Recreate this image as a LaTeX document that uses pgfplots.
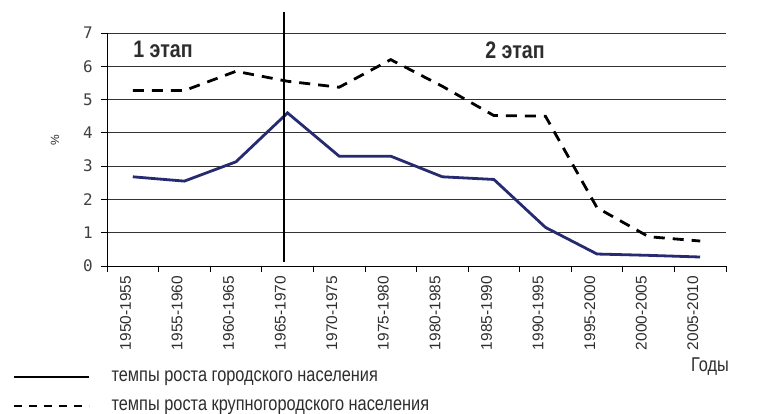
\documentclass[border=0pt]{standalone}
\usepackage{fontspec}
\setmainfont{Liberation Sans}
\newfontfamily\condfont[FakeStretch=0.82]{Liberation Sans}
\newfontfamily\monofont{DejaVu Sans Mono}
\usepackage{pgfplots}
\usepackage{pgfplotstable}
\pgfplotsset{compat=1.18}
\definecolor{navy}{RGB}{38,42,112}
\definecolor{txt}{RGB}{45,45,45}

\pgfplotstableread{
x urban big
0 2.68 5.27
1 2.55 5.27
2 3.13 5.85
3 4.60 5.55
4 3.30 5.37
5 3.30 6.20
6 2.68 5.40
7 2.60 4.52
8 1.16 4.50
9 0.36 1.75
10 0.32 0.88
11 0.27 0.75
}\datatable

\begin{document}
\begin{tikzpicture}
\path[use as bounding box] (0,0) rectangle (772bp,414bp);
\begin{axis}[
  at={(107bp,148bp)}, anchor=south west,
  scale only axis, width=619bp, height=233bp,
  xmin=-0.5, xmax=11.5, ymin=0, ymax=7,
  clip=false,
  axis lines*=left,
  axis line style={-, black, line width=0.8bp},
  xtick={-0.5,0.5,...,11.5},
  xticklabels={1950-1955,1955-1960,1960-1965,1965-1970,1970-1975,1975-1980,1980-1985,1985-1990,1990-1995,1995-2000,2000-2005,2005-2010,{}},
  xticklabel style={xshift=18.5bp, yshift=-4bp, rotate=90, anchor=east, inner sep=0pt, font=\fontsize{15.5}{15.5}\selectfont, text=txt},
  ytick={0,...,7},
  /pgf/number format/assume math mode=true,
  yticklabel style={font=\monofont\fontsize{16}{16}\selectfont, text=black!75, inner sep=0pt, xshift=-8bp},
  tick align=outside,
  major tick length=6bp,
  tick style={black, line width=0.8bp},
  ymajorgrids,
  grid style={black!80, line width=0.8bp},
  ylabel={\%},
  ylabel style={at={(axis description cs:-0.084,0.541)}, anchor=center, font=\fontsize{12}{12}\selectfont, text=txt},
  xlabel={Годы},
  xlabel style={at={(axis description cs:0.974,-0.433)}, anchor=center, font=\condfont\fontsize{20}{20}\selectfont, text=txt},
  legend style={at={(axis description cs:-0.152,-0.44)}, anchor=north west, draw=none, fill=none, inner sep=0pt,
    font=\condfont\fontsize{20}{20}\selectfont, text=txt, row sep=13bp,
    /tikz/every odd column/.append style={column sep=20bp}},
  legend cell align=left,
  legend image code/.code={\draw[#1] (0bp,0bp) -- (75bp,0bp);},
]
\addplot[navy, line width=2.8bp, forget plot] table[x=x, y=urban] {\datatable};
\addplot[black, line width=2.8bp, dash pattern=on 11bp off 8bp, forget plot] table[x=x, y=big] {\datatable};
\addplot[black, line width=2.2bp, forget plot] coordinates {(2.93,0.13) (2.93,7.63)};
\addlegendimage{black, line width=1.5bp}
\addlegendentry{темпы роста городского населения}
\addlegendimage{black, line width=1.5bp, dash pattern=on 8bp off 7bp}
\addlegendentry{темпы роста крупногородского населения}
\node[font=\condfont\bfseries\fontsize{24}{24}\selectfont, text=txt] at (axis cs:0.585,6.52) {1 этап};
\node[font=\condfont\bfseries\fontsize{24}{24}\selectfont, text=txt] at (axis cs:7.41,6.49) {2 этап};
\end{axis}
\end{tikzpicture}
\end{document}
